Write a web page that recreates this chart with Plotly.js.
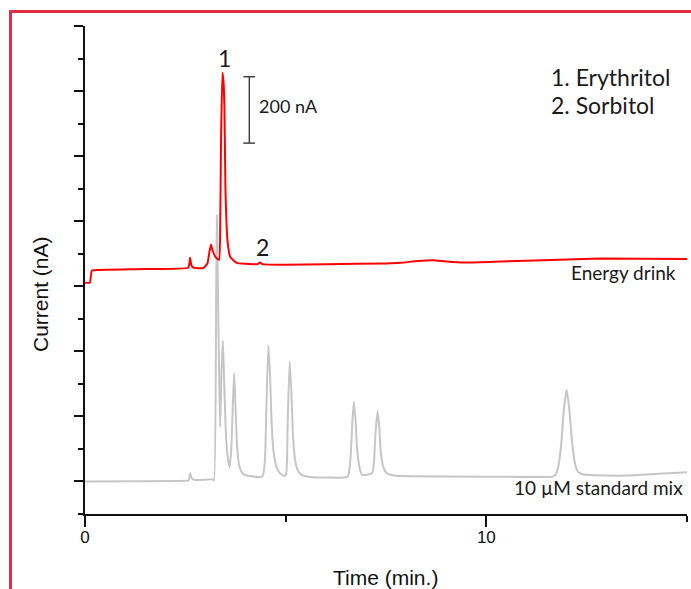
<!DOCTYPE html>
<html>
<head>
<meta charset="utf-8">
<script src="https://cdn.plot.ly/plotly-3.0.1.min.js"></script>
<style>html,body{margin:0;padding:0;background:#fff;overflow:hidden}</style>
</head>
<body>
<div id="chart" style="width:691px;height:589px"></div>
<script>
// Standard mix (gray) trace, time in min, current in nA
const stdTime = [0, 2.50, 2.58, 2.62, 2.66, 2.72, 3.20, 3.217, 3.267, 3.284, 3.30, 3.34, 3.367, 3.40, 3.434, 3.47, 3.51, 3.55, 3.599, 3.64, 3.68, 3.716, 3.75, 3.79, 3.84, 3.95, 4.20, 4.42, 4.48, 4.52, 4.57, 4.61, 4.65, 4.70, 4.77, 4.86, 4.97, 5.01, 5.05, 5.10, 5.14, 5.18, 5.23, 5.30, 5.40, 5.60, 6.50, 6.56, 6.62, 6.66, 6.70, 6.74, 6.78, 6.83, 6.90, 7.15, 7.20, 7.24, 7.29, 7.33, 7.37, 7.43, 7.52, 7.70, 9.00, 11.00, 11.65, 11.72, 11.80, 11.87, 11.93, 12.00, 12.06, 12.13, 12.20, 12.28, 12.40, 13.00, 13.50, 15.00];
const stdCurrent = [0, 2, 3, 25, 10, 5, 6, 3, 556, 818, 700, 350, 167, 330, 433, 300, 150, 80, 44, 90, 220, 333, 230, 110, 50, 22, 15, 15, 60, 230, 418, 330, 180, 90, 45, 25, 17, 22, 180, 368, 280, 150, 70, 35, 20, 14, 13, 18, 80, 180, 246, 190, 100, 50, 21, 25, 60, 150, 216, 170, 90, 45, 25, 18, 15, 14, 15, 20, 50, 120, 220, 282, 230, 130, 60, 30, 22, 18, 18, 28];

// Energy drink (red) trace
const drinkTime = [0, 0.12, 0.17, 0.30, 1.50, 2.57, 2.60, 2.62, 2.65, 2.70, 2.95, 3.05, 3.10, 3.14, 3.18, 3.25, 3.34, 3.37, 3.39, 3.424, 3.45, 3.474, 3.50, 3.55, 3.62, 3.78, 4.00, 4.30, 4.36, 4.42, 5.00, 6.00, 7.50, 7.86, 8.30, 8.68, 9.00, 9.52, 10.35, 11.60, 12.84, 15.00];
const drinkCurrent = [611, 611, 648, 650, 653, 657, 670, 688, 665, 657, 656, 670, 705, 728, 710, 690, 681, 800, 1050, 1256, 1230, 1150, 895, 741, 690, 672, 669, 668, 673, 668, 666, 668, 670, 672, 678, 680, 676, 673, 676, 681, 685, 684];

const xTickVals = [0, 10];
const xTickText = ['0', '10'];
const yTickVals = [0, 200, 400, 600, 800, 1000, 1200, 1400];

const traces = [
  {x: stdTime, y: stdCurrent, type: 'scatter', mode: 'lines',
   line: {color: '#c6c6c6', width: 2, shape: 'spline', smoothing: 0.6}, hoverinfo: 'skip', showlegend: false},
  {x: drinkTime, y: drinkCurrent, type: 'scatter', mode: 'lines',
   line: {color: '#ff0000', width: 2, shape: 'spline', smoothing: 0.4}, hoverinfo: 'skip', showlegend: false}
];

const W = 602, H = 488, L = 85, T = 26;
const px = v => (v - L) / W;
const py = v => (T + H - v) / H;

const annFont = {family: 'Lato, Calibri, sans-serif', color: '#1a1a1a'};
const axFont = 'Liberation Sans, Arial, sans-serif';
const layout = {
  width: 691, height: 589,
  margin: {l: 85, r: 4, t: 26, b: 75, pad: 0},
  paper_bgcolor: '#ffffff', plot_bgcolor: '#ffffff',
  showlegend: false,
  xaxis: {
    range: [0, 15], showgrid: false, zeroline: false,
    showline: true, linecolor: '#111', linewidth: 2,
    ticks: 'outside', ticklen: 11, tickwidth: 2, tickcolor: '#111',
    tickvals: xTickVals, ticktext: xTickText, ticklabelstandoff: -4,
    minor: {ticks: 'outside', ticklen: 6, tickwidth: 2, tickcolor: '#111', dtick: 5, tick0: 0},
    tickfont: {family: axFont, size: 17, color: '#111'}
  },
  yaxis: {
    range: [-100, 1400], showgrid: false, zeroline: false,
    showline: true, linecolor: '#111', linewidth: 2,
    ticks: 'outside', ticklen: 9, tickwidth: 2, tickcolor: '#111',
    tickvals: yTickVals, showticklabels: false,
    minor: {ticks: 'outside', ticklen: 5, tickwidth: 2, tickcolor: '#111', dtick: 100, tick0: -100}
  },
  shapes: [
    // red frame
    {type: 'line', xref: 'paper', yref: 'paper', x0: px(10.5), x1: px(10.5), y0: py(700), y1: py(10),
     line: {color: '#e22d47', width: 3}},
    {type: 'line', xref: 'paper', yref: 'paper', x0: px(9), x1: px(720), y0: py(11.5), y1: py(11.5),
     line: {color: '#e22d47', width: 3}},
    // 200 nA scale bar
    {type: 'line', xref: 'x', yref: 'y', x0: 4.094, x1: 4.094, y0: 1040, y1: 1244,
     line: {color: '#444', width: 1.5}},
    {type: 'line', xref: 'x', yref: 'y', x0: 3.945, x1: 4.236, y0: 1244, y1: 1244,
     line: {color: '#444', width: 1.5}},
    {type: 'line', xref: 'x', yref: 'y', x0: 3.945, x1: 4.236, y0: 1040, y1: 1040,
     line: {color: '#444', width: 1.5}}
  ],
  annotations: [
    // axis titles
    {x: px(385), y: py(577), xref: 'paper', yref: 'paper', text: 'Time (min.)', showarrow: false,
     xanchor: 'center', yanchor: 'middle', font: {family: axFont, size: 21, color: '#111'}},
    {x: px(40), y: py(294), xref: 'paper', yref: 'paper', text: 'Current (nA)', showarrow: false,
     textangle: -90, xanchor: 'center', yanchor: 'middle', font: {family: axFont, size: 21, color: '#111'}},
    // labels
    {x: 11.56, y: 1243, xref: 'x', yref: 'y', text: '1. Erythritol', showarrow: false,
     xanchor: 'left', yanchor: 'middle', font: Object.assign({size: 23}, annFont)},
    {x: 11.56, y: 1158, xref: 'x', yref: 'y', text: '2. Sorbitol', showarrow: false,
     xanchor: 'left', yanchor: 'middle', font: Object.assign({size: 23}, annFont)},
    {x: 4.286, y: 1154, xref: 'x', yref: 'y', text: '200 nA', showarrow: false,
     xanchor: 'left', yanchor: 'middle', font: Object.assign({size: 18}, annFont)},
    {x: 3.464, y: 1302, xref: 'x', yref: 'y', text: '1', showarrow: false,
     xanchor: 'center', yanchor: 'middle', font: Object.assign({size: 23}, annFont)},
    {x: 4.423, y: 721, xref: 'x', yref: 'y', text: '2', showarrow: false,
     xanchor: 'center', yanchor: 'middle', font: Object.assign({size: 23}, annFont)},
    {x: 14.78, y: 641, xref: 'x', yref: 'y', text: 'Energy drink', showarrow: false,
     xanchor: 'right', yanchor: 'middle', font: Object.assign({size: 19}, annFont)},
    {x: 14.95, y: -17, xref: 'x', yref: 'y', text: '10 µM standard mix', showarrow: false,
     xanchor: 'right', yanchor: 'middle', font: Object.assign({size: 19}, annFont)}
  ]
};

Plotly.newPlot('chart', traces, layout, {staticPlot: true, displayModeBar: false});
</script>
</body>
</html>
